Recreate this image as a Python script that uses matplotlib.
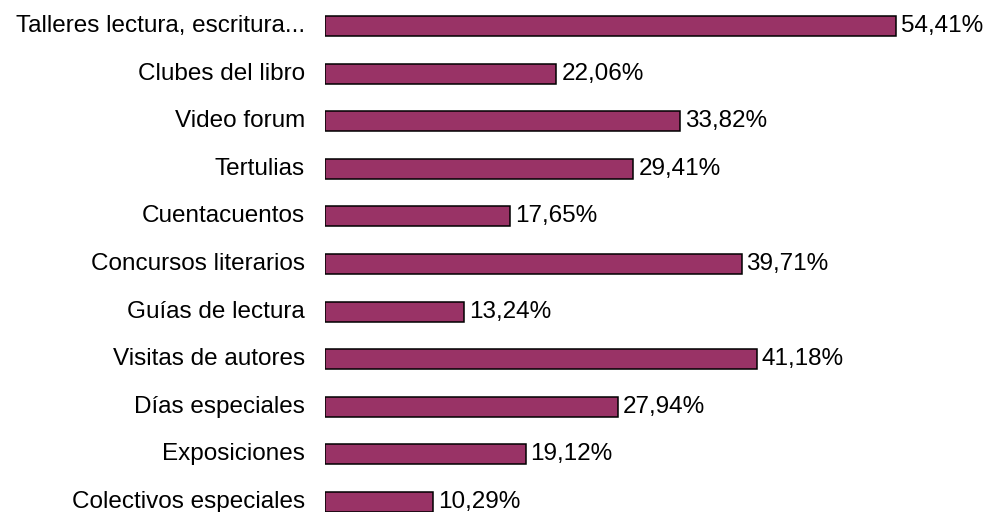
import matplotlib.pyplot as plt

# --- Data ---
categories = ['Talleres lectura, escritura...', 'Clubes del libro', 'Video forum',
              'Tertulias', 'Cuentacuentos', 'Concursos literarios', 'Guías de lectura',
              'Visitas de autores', 'Días especiales', 'Exposiciones',
              'Colectivos especiales']
values = [54.41, 22.06, 33.82, 29.41, 17.65, 39.71, 13.24, 41.18, 27.94, 19.12, 10.29]

plt.rcParams['font.family'] = ['Liberation Sans', 'DejaVu Sans']

W, H = 986, 512
fig = plt.figure(figsize=(W / 100, H / 100), dpi=100)

# axes placed in pixel terms: bars start at x=325, rows spaced ~47.6 px
x0 = 325
px_per_pct = (895.7 - x0) / 54.41
row = 47.6
top_center = 26
ax = fig.add_axes([x0 / W, 0, 1 - x0 / W, 1])
ax.set_xlim(0, (W - x0) / px_per_pct)
ax.set_ylim((H - top_center) / row, -top_center / row)

pos = list(range(len(categories)))
ax.barh(pos, values, height=20 / row, color='#993366', edgecolor='black',
        linewidth=1.1)

for p, v in zip(pos, values):
    ax.text(v + 5 / px_per_pct, p, f'{v:.2f}'.replace('.', ',') + '%',
            va='center', ha='left', fontsize=17.5, color='black')

for p, c in zip(pos, categories):
    ax.annotate(c, xy=(0, p), xycoords='data', xytext=(-20, 0),
                textcoords='offset pixels', va='center', ha='right',
                fontsize=17.5, color='black', annotation_clip=False)

ax.axis('off')
fig.savefig('out.png', dpi=100)
